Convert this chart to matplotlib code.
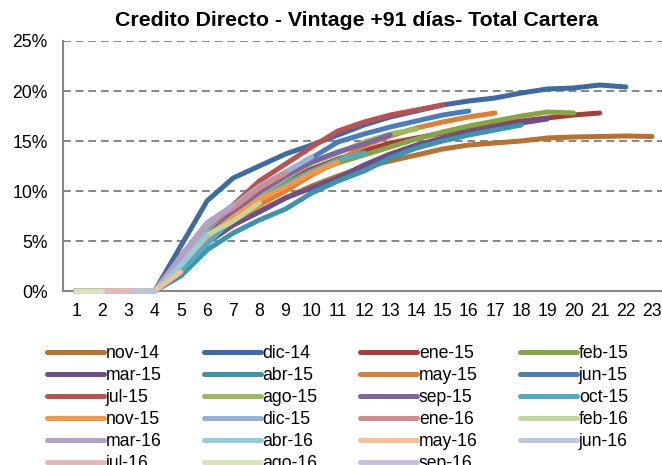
import matplotlib
matplotlib.use("Agg")
import matplotlib.pyplot as plt

plt.rcParams["font.family"] = ["Liberation Sans", "DejaVu Sans"]

meses = list(range(1, 24))

nombres = ["nov-14", "dic-14", "ene-15", "feb-15", "mar-15", "abr-15", "may-15", "jun-15",
           "jul-15", "ago-15", "sep-15", "oct-15", "nov-15", "dic-15", "ene-16", "feb-16",
           "mar-16", "abr-16", "may-16", "jun-16", "jul-16", "ago-16", "sep-16"]

colores = ["#B9712F", "#3C6CA8", "#A83C3A", "#86A544", "#6B4E8E", "#3A95AD", "#DE7F32", "#4A7DC0",
           "#C0504D", "#9BBB59", "#8064A2", "#4BACC6", "#F79646", "#95B3D7", "#D08C8A", "#C3D69B",
           "#B3A2C7", "#93CDDD", "#FAC090", "#B9C7E2", "#E6B9B8", "#D7E4BD", "#CCC1DA"]

# % vintage +91 dias, un valor por mes de maduracion
nov_14 = [0, 0, 0, 0, 2.3, 4.8, 6.6, 8.0, 9.3, 10.5, 11.5, 12.4, 13.0, 13.6, 14.2, 14.6, 14.8, 15.0, 15.3, 15.4, 15.45, 15.5, 15.45]
dic_14 = [0, 0, 0, 0, 4.5, 9.0, 11.3, 12.5, 13.7, 14.6, 15.6, 16.6, 17.4, 18.0, 18.6, 19.0, 19.3, 19.8, 20.2, 20.3, 20.6, 20.4]
ene_15 = [0, 0, 0, 0, 3.0, 5.8, 7.8, 9.6, 11.0, 12.2, 13.2, 14.0, 14.8, 15.3, 15.8, 16.3, 16.7, 17.0, 17.3, 17.6, 17.8]
feb_15 = [0, 0, 0, 0, 2.8, 5.5, 7.5, 9.2, 10.6, 11.8, 12.8, 13.6, 14.4, 15.2, 15.9, 16.5, 17.0, 17.5, 17.9, 17.8]
mar_15 = [0, 0, 0, 0, 2.2, 4.8, 6.6, 7.9, 9.3, 10.3, 11.3, 12.6, 13.7, 14.6, 15.3, 15.9, 16.4, 16.8, 17.2]
abr_15 = [0, 0, 0, 0, 1.5, 4.1, 5.8, 7.1, 8.2, 9.8, 11.0, 12.0, 13.3, 14.3, 15.0, 15.6, 16.1, 16.6]
may_15 = [0, 0, 0, 0, 2.5, 5.2, 7.0, 8.6, 10.0, 11.6, 13.0, 14.5, 15.5, 16.3, 16.9, 17.4, 17.8]
jun_15 = [0, 0, 0, 0, 3.2, 6.3, 8.3, 10.0, 11.6, 13.3, 14.9, 15.7, 16.4, 17.0, 17.6, 18.0]
jul_15 = [0, 0, 0, 0, 3.0, 6.3, 8.6, 11.0, 12.7, 14.4, 16.0, 16.9, 17.6, 18.1, 18.6]
ago_15 = [0, 0, 0, 0, 2.8, 5.8, 7.8, 9.6, 11.3, 12.8, 13.8, 14.9, 15.7, 16.2]
sep_15 = [0, 0, 0, 0, 2.7, 5.5, 7.9, 9.9, 11.5, 12.9, 13.9, 14.7, 15.6]
oct_15 = [0, 0, 0, 0, 2.0, 4.7, 7.3, 9.2, 10.7, 12.0, 13.1, 13.8]
nov_15 = [0, 0, 0, 0, 2.6, 5.4, 7.4, 9.2, 10.4, 11.8, 12.9]
dic_15 = [0, 0, 0, 0, 3.3, 6.5, 8.5, 10.5, 11.9, 13.4]
ene_16 = [0, 0, 0, 0, 3.5, 6.8, 8.3, 10.3, 11.8]
feb_16 = [0, 0, 0, 0, 2.6, 5.6, 7.0, 8.8]
mar_16 = [0, 0, 0, 0, 3.3, 6.8, 8.6]
abr_16 = [0, 0, 0, 0, 2.6, 5.6]
may_16 = [0, 0, 0, 0, 1.9]
jun_16 = [0, 0, 0, 0]
jul_16 = [0, 0, 0]
ago_16 = [0, 0]
sep_16 = [0]

series = [nov_14, dic_14, ene_15, feb_15, mar_15, abr_15, may_15, jun_15, jul_15, ago_15,
          sep_15, oct_15, nov_15, dic_15, ene_16, feb_16, mar_16, abr_16, may_16, jun_16,
          jul_16, ago_16, sep_16]

fig = plt.figure(figsize=(6.62, 4.65), dpi=100)
ax = fig.add_axes([63 / 662, 174 / 465, 599 / 662, 250 / 465])

lineas = []
for nombre, valores, color in zip(nombres, series, colores):
    ln, = ax.plot(meses[:len(valores)], valores, color=color, lw=3.6, label=nombre,
                  solid_capstyle="round", solid_joinstyle="round", clip_on=False, zorder=3)
    lineas.append(ln)

ax.set_xlim(0.5, 23.38)
ax.set_ylim(0, 25)
ax.set_xticks(meses)
ax.set_yticks([0, 5, 10, 15, 20, 25])
ax.set_yticklabels(["0%", "5%", "10%", "15%", "20%", "25%"])
ax.tick_params(axis="both", length=0, labelsize=12.7, colors="black")
ax.tick_params(axis="y", pad=11)
ax.tick_params(axis="x", pad=9)

ax.yaxis.grid(True, color="#868686", linestyle=(0, (4, 2.5)), linewidth=1.4)
ax.set_axisbelow(True)
for s in ["top", "right"]:
    ax.spines[s].set_visible(False)
for s in ["left", "bottom"]:
    ax.spines[s].set_color("#868686")
    ax.spines[s].set_linewidth(1.5)

fig.text(357 / 662, 1 - 20 / 465, "Credito Directo - Vintage +91 días- Total Cartera",
         ha="center", va="center", fontsize=15.3, fontweight="bold")

# leyenda en orden por filas (4 columnas)
orden = []
for j in range(4):
    for i in range(6):
        k = i * 4 + j
        if k < len(lineas):
            orden.append(k)
fig.legend([lineas[k] for k in orden], [nombres[k] for k in orden], ncol=4,
           loc="upper left", bbox_to_anchor=(47 / 662, 1 - 345 / 465), frameon=False,
           fontsize=12.7, handlelength=3.23, handletextpad=0.1, columnspacing=2.4,
           labelspacing=0.28, borderaxespad=0, borderpad=0)

fig.savefig("out.png", dpi=100)
